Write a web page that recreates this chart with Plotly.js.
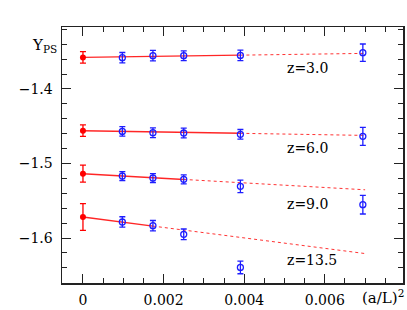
<!DOCTYPE html>
<html>
<head>
<meta charset="utf-8">
<script src="https://cdn.plot.ly/plotly-3.0.1.min.js"></script>
<style>html,body{margin:0;padding:0;background:#fff;}#chart{width:407px;height:310px;}</style>
</head>
<body>
<div id="chart"></div>
<script>
// (a/L)^2 values of the lattice data
const latX = [0.000977, 0.001736, 0.0025, 0.003906, 0.006944];
// lattice data per z
const z3Y  = [-1.3580, -1.3553, -1.3553, -1.3549, -1.3513];
const z3E  = [0.0070, 0.0070, 0.0065, 0.0070, 0.0117];
const z6Y  = [-1.4569, -1.4587, -1.4591, -1.4609, -1.4636];
const z6E  = [0.0065, 0.0065, 0.0065, 0.0065, 0.0120];
const z9Y  = [-1.5168, -1.5195, -1.5213, -1.5307, -1.5553];
const z9E  = [0.0060, 0.0060, 0.0060, 0.0085, 0.0125];
const z13X = [0.000977, 0.001736, 0.0025, 0.003906];
const z13Y = [-1.5785, -1.5835, -1.5951, -1.6395];
const z13E = [0.0070, 0.0070, 0.0072, 0.0085];
// continuum values (x = 0)
const contX = [0, 0, 0, 0];
const contY = [-1.3576, -1.4560, -1.5137, -1.5718];
const contE = [0.0078, 0.0077, 0.0114, 0.0180];
// fit lines: [x0, xLastFitted, xEnd] and their y values
const fit3X  = [0, 0.003906, 0.007];  const fit3Y  = [-1.3576, -1.3546, -1.3522];
const fit6X  = [0, 0.003906, 0.007];  const fit6Y  = [-1.4560, -1.4595, -1.4623];
const fit9X  = [0, 0.0025, 0.007];    const fit9Y  = [-1.5137, -1.5214, -1.5353];
const fit13X = [0, 0.001736, 0.007];  const fit13Y = [-1.5718, -1.5840, -1.6209];
const zLabels = ["z=3.0", "z=6.0", "z=9.0", "z=13.5"];
const zLabelY = [-1.3714, -1.4788, -1.5540, -1.6298];
const xTickVals = [0, 0.002, 0.004, 0.006];
const xTickText = ["0", "0.002", "0.004", "0.006"];
const yTickVals = [-1.6, -1.5, -1.4];
const yTickText = ["\u22121.6", "\u22121.5", "\u22121.4"];

const RED = 'rgb(255,0,0)';
const BLUE = 'rgb(30,30,255)';
const FONT = "'DejaVu Serif', 'Liberation Serif', serif";

const traces = [];
const fits = [[fit3X, fit3Y], [fit6X, fit6Y], [fit9X, fit9Y], [fit13X, fit13Y]];
fits.forEach(([fx, fy]) => {
  traces.push({x: fx.slice(0, 2), y: fy.slice(0, 2), mode: 'lines', line: {color: 'rgba(255,0,0,0.85)', width: 1.4}, hoverinfo: 'skip'});
  traces.push({x: fx.slice(1), y: fy.slice(1), mode: 'lines', line: {color: 'rgba(255,0,0,0.8)', width: 1, dash: 'dot'}, hoverinfo: 'skip'});
});
const series = [[latX, z3Y, z3E], [latX, z6Y, z6E], [latX, z9Y, z9E], [z13X, z13Y, z13E]];
series.forEach(([sx, sy, se]) => {
  traces.push({x: sx, y: sy, mode: 'markers',
    marker: {symbol: 'circle-open', size: 6, color: BLUE, line: {width: 1.3, color: BLUE}},
    error_y: {type: 'data', array: se, visible: true, color: BLUE, thickness: 1.3, width: 3}});
});
traces.push({x: contX, y: contY, mode: 'markers',
  marker: {symbol: 'circle', size: 6, color: RED},
  error_y: {type: 'data', array: contE, visible: true, color: RED, thickness: 1.3, width: 3}});

const annotations = zLabels.map((t, i) => ({
  x: 0.005, y: zLabelY[i], xref: 'x', yref: 'y', text: t, showarrow: false,
  xanchor: 'left', yanchor: 'middle', font: {family: FONT, size: 14, color: '#000'}
}));
annotations.push({xref: 'paper', yref: 'paper', x: 1.0, xshift: 3, y: 0, yshift: -14, xanchor: 'right', yanchor: 'middle',
  text: '(a/L)<sup>2</sup>', showarrow: false, font: {family: FONT, size: 15, color: '#000'}});
annotations.push({xref: 'paper', yref: 'paper', x: 0, xshift: -32, y: 1, yshift: -18, xanchor: 'left', yanchor: 'middle',
  text: 'Y<sub>PS</sub>', showarrow: false, font: {family: FONT, size: 15, color: '#000'}});

const axisCommon = {
  showline: true, linecolor: '#222', linewidth: 1.5, mirror: 'allticks',
  ticks: 'inside', ticklen: 9, tickwidth: 1, tickcolor: '#222',
  showgrid: false, zeroline: false, fixedrange: true,
  tickfont: {family: FONT, size: 14, color: '#000'}
};
const layout = {
  width: 407, height: 310,
  margin: {l: 62, r: 4, t: 27, b: 27},
  paper_bgcolor: '#fff', plot_bgcolor: '#fff',
  font: {family: FONT},
  showlegend: false,
  xaxis: Object.assign({}, axisCommon, {
    range: [-0.00052, 0.00794], tickvals: xTickVals, ticktext: xTickText,
    ticklabelstandoff: 4,
    minor: {ticks: 'inside', ticklen: 5, tickwidth: 1, tickcolor: '#222', dtick: 0.0005, tick0: 0}
  }),
  yaxis: Object.assign({}, axisCommon, {
    range: [-1.6604, -1.3168], tickvals: yTickVals, ticktext: yTickText,
    ticklabelstandoff: 5,
    minor: {ticks: 'inside', ticklen: 5, tickwidth: 1, tickcolor: '#222', dtick: 0.02, tick0: -1.4}
  }),
  annotations: annotations
};
Plotly.newPlot('chart', traces, layout, {displayModeBar: false, staticPlot: true});
</script>
</body>
</html>
